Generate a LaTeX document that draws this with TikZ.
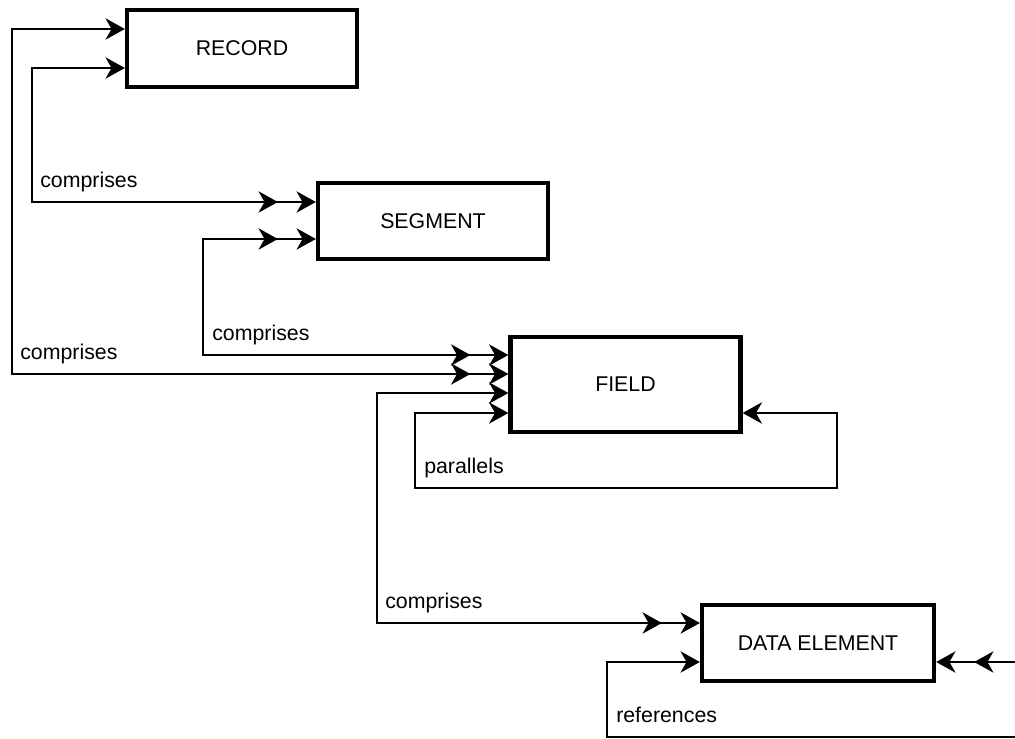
\documentclass[tikz,border=0pt]{standalone}
\usepackage{fontspec}
\setmainfont{Liberation Sans}
\usetikzlibrary{arrows.meta,decorations.markings}

\tikzset{
  arrowhead/.tip={Stealth[length=14.5pt,width=16pt,inset=4.5pt]},
  entity/.style={draw,line width=3.2pt,minimum width=172.5pt,
    minimum height=57pt,inner sep=0pt,font=\fontsize{16}{19}\selectfont},
  role/.style={anchor=base west,inner sep=0pt,
    font=\fontsize{16}{19}\selectfont},
  link/.style={line width=1.3pt},
  % second head at the many end of a link
  twoend/.style={postaction={decorate,decoration={markings,
    mark=at position -28.5pt with {\arrow{arrowhead}}}}},
  twostart/.style={postaction={decorate,decoration={markings,
    mark=at position 28.5pt with {\arrowreversed{arrowhead}}}}}
}

\begin{document}
\begin{tikzpicture}[x=0.75pt,y=-0.75pt]
  % fix the visible area first
  \useasboundingbox (0,0) rectangle (1015,739);
  \clip (0,0) rectangle (1015,739);

  % the boxes
  \node [entity,minimum height=57.75pt] (record) at (242,48.5) {RECORD};
  \node [entity] (segment) at (433,221) {SEGMENT};
  \node [entity,minimum height=71.25pt] (field) at (625.5,384.5) {FIELD};
  \node [entity,minimum width=174pt] (element) at (818,643) {DATA ELEMENT};

  % record comprises segment and field
  \draw [link,{arrowhead}-{arrowhead},twoend]
    (record.west |- 0,68) -| (32,202) -- (segment.west |- 0,202);
  \draw [link,{arrowhead}-{arrowhead},twoend]
    (record.west |- 0,29) -| (12,374) -- (field.west |- 0,374);
  \node [role] (comp1) at (40,187) {comprises};
  \node [role] (comp2) at (20,359) {comprises};

  % segment comprises field
  \draw [link,{arrowhead}-{arrowhead},twostart,twoend]
    (segment.west |- 0,239) -| (203,355) -- (field.west |- 0,355);
  \node [role] (comp3) at (212,340) {comprises};

  % field parallels field, field comprises data element
  \draw [link,{arrowhead}-{arrowhead}]
    (field.west |- 0,413) -| (415,488) -| (837,413) -- (field.east |- 0,413);
  \node [role] (para) at (424,473) {parallels};
  \draw [link,{arrowhead}-{arrowhead},twoend]
    (field.west |- 0,393) -| (377,623) -- (element.west |- 0,623);
  \node [role] (comp4) at (385,608) {comprises};

  % data element references data element
  \draw [link,{arrowhead}-{arrowhead},twoend]
    (element.west |- 0,662) -| (607,737) -| (1040,662)
    -- (element.east |- 0,662);
  \node [role] (refs) at (616,722) {references};
\end{tikzpicture}
\end{document}
